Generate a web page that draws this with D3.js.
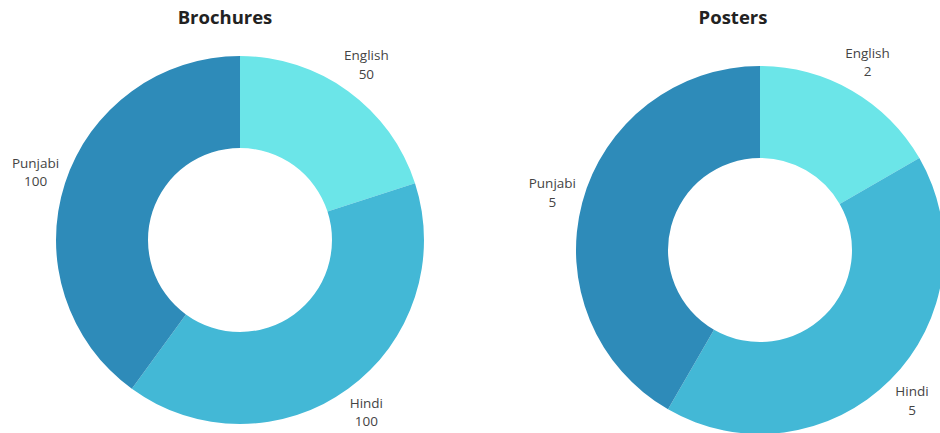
<!DOCTYPE html>
<html>
<head>
<meta charset="utf-8">
<script src="https://cdn.jsdelivr.net/npm/d3@7"></script>
<style>
  body { margin: 0; background: #fff; }
  svg { display: block; font-family: "Open Sans", sans-serif; }
</style>
</head>
<body>
<div id="chart"></div>
<script>
// chart data
const languages = ['English', 'Hindi', 'Punjabi'];
const brochureValues = [50, 100, 100];
const posterValues = [2, 5, 5];
const chartTitles = ['Brochures', 'Posters'];
const colours = ['#6be5e8', '#43b8d6', '#2e8bb9'];

const width = 940, height = 433;

const svg = d3.select('#chart')
    .append('svg')
    .attr('width', width)
    .attr('height', height);

const colour = d3.scaleOrdinal().domain(languages).range(colours);

// one donut per panel: centre, title position
const panels = [
    {title: chartTitles[0], values: brochureValues, cx: 240, cy: 240, tx: 225},
    {title: chartTitles[1], values: posterValues, cx: 760, cy: 250, tx: 733}
];

const outerR = 184, innerR = 92, labelR = 215;

const pie = d3.pie().sort(null).value(d => d.value);
const arc = d3.arc().innerRadius(innerR).outerRadius(outerR);
const labelArc = d3.arc().innerRadius(labelR).outerRadius(labelR);

panels.forEach(p => {
    const data = languages.map((k, i) => ({k: k, value: p.values[i]}));

    svg.append('text')
        .attr('x', p.tx)
        .attr('y', 24)
        .attr('text-anchor', 'middle')
        .style('font-size', '18.5px')
        .style('font-weight', 'bold')
        .style('fill', '#222')
        .text(p.title);

    const g = svg.append('g')
        .attr('transform', `translate(${p.cx},${p.cy})`);

    const arcs = pie(data);

    g.selectAll('path.slice')
        .data(arcs)
        .join('path')
        .classed('slice', true)
        .attr('d', arc)
        .style('fill', d => colour(d.data.k));

    // two-line labels outside the ring
    const labels = g.selectAll('text.label')
        .data(arcs)
        .join('text')
        .classed('label', true)
        .attr('transform', d => `translate(${labelArc.centroid(d)})`)
        .attr('text-anchor', 'middle')
        .style('font-size', '13.5px')
        .style('fill', '#444');

    labels.append('tspan')
        .attr('x', 0)
        .attr('y', -6)
        .text(d => d.data.k);

    labels.append('tspan')
        .attr('x', 0)
        .attr('y', 12.5)
        .text(d => d.data.value);
});
</script>
</body>
</html>
